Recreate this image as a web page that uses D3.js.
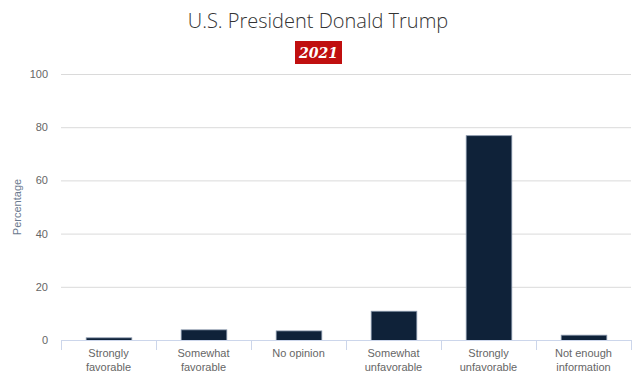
<!DOCTYPE html>
<html>
<head>
  <meta charset="utf-8">
  <script src="https://d3js.org/d3.v7.min.js"></script>
  <style>
    body { margin:0; background:#fff; }
    text { font-family: "Liberation Sans", Arial, sans-serif; }
  </style>
</head>
<body>
<script>

/* Data */
var categories = [["Strongly", "favorable"], ["Somewhat", "favorable"], ["No opinion"],
                  ["Somewhat", "unfavorable"], ["Strongly", "unfavorable"], ["Not enough", "information"]];
var values = [1, 4, 3.6, 11, 77, 2];
var yTicks = [0, 20, 40, 60, 80, 100];

var width = 640,
    height = 388,
    margin = { top: 74, right: 9, bottom: 48, left: 61 };

var svg = d3.select('body')
  .append('svg')
    .attr('width', width)
    .attr('height', height);

var x = d3.scaleBand()
    .domain(d3.range(categories.length))
    .range([margin.left, width - margin.right])
    .paddingInner(0.52)
    .paddingOuter(0.26);

var y = d3.scaleLinear()
    .domain([0, 100])
    .range([height - margin.bottom, margin.top]);

// title
svg.append('text')
    .attr('x', 318)
    .attr('y', 28)
    .attr('text-anchor', 'middle')
    .attr('fill', '#333')
    .style('font-family', '"Open Sans", sans-serif')
    .style('font-weight', 300)
    .style('font-size', '20px')
    .text('U.S. President Donald Trump');

svg.append('rect')
    .attr('x', 295)
    .attr('y', 41)
    .attr('width', 47)
    .attr('height', 23)
    .attr('fill', '#c00f0f');

svg.append('text')
    .attr('x', 318.5)
    .attr('y', 58)
    .attr('text-anchor', 'middle')
    .attr('fill', '#fff')
    .style('font-family', '"DejaVu Serif", serif')
    .style('font-style', 'italic')
    .style('font-weight', 'bold')
    .style('font-size', '14px')
    .text('2021');

// gridlines
svg.append('g')
  .selectAll('line')
  .data(yTicks.filter(function(d) { return d > 0; }))
  .enter().append('line')
    .attr('x1', margin.left)
    .attr('x2', width - margin.right)
    .attr('y1', function(d) { return y(d) + 0.5; })
    .attr('y2', function(d) { return y(d) + 0.5; })
    .attr('stroke', '#dadada');

// y labels
svg.append('g')
  .selectAll('text')
  .data(yTicks)
  .enter().append('text')
    .attr('x', 48)
    .attr('y', function(d) { return y(d) + 4; })
    .attr('text-anchor', 'end')
    .attr('fill', '#666')
    .style('font-size', '11px')
    .text(function(d) { return d; });

svg.append('text')
    .attr('transform', 'translate(21,' + y(50) + ') rotate(-90)')
    .attr('text-anchor', 'middle')
    .attr('fill', '#6b7a8f')
    .style('font-size', '11px')
    .text('Percentage');

// bars
svg.append('g')
  .selectAll('rect')
  .data(values)
  .enter().append('rect')
    .attr('x', function(d, i) { return x(i) + 0.5; })
    .attr('y', function(d) { return y(d) + 0.5; })
    .attr('width', x.bandwidth())
    .attr('height', function(d) { return y(0) - y(d); })
    .attr('fill', '#0f2239')
    .attr('stroke', '#8796ab')
    .attr('stroke-width', 0.8);

// x axis
var x0 = margin.left, step = (width - margin.right - margin.left) / categories.length;
svg.append('line')
    .attr('x1', x0)
    .attr('x2', width - margin.right)
    .attr('y1', y(0) + 0.5)
    .attr('y2', y(0) + 0.5)
    .attr('stroke', '#ccd6eb');

svg.append('g')
  .selectAll('line')
  .data(d3.range(categories.length + 1))
  .enter().append('line')
    .attr('x1', function(i) { return Math.round(x0 + i * step) + 0.5; })
    .attr('x2', function(i) { return Math.round(x0 + i * step) + 0.5; })
    .attr('y1', y(0))
    .attr('y2', y(0) + 10)
    .attr('stroke', '#ccd6eb');

var labels = svg.append('g')
  .selectAll('text')
  .data(categories)
  .enter().append('text')
    .attr('text-anchor', 'middle')
    .attr('fill', '#666')
    .style('font-size', '11px')
    .attr('transform', function(d, i) {
      return 'translate(' + (x(i) + x.bandwidth() / 2) + ',' + (y(0) + 17) + ')';
    });

labels.selectAll('tspan')
  .data(function(d) { return d; })
  .enter().append('tspan')
    .attr('x', 0)
    .attr('dy', function(d, i) { return i === 0 ? 0 : 14; })
    .text(function(d) { return d; });

</script>
</body>
</html>
